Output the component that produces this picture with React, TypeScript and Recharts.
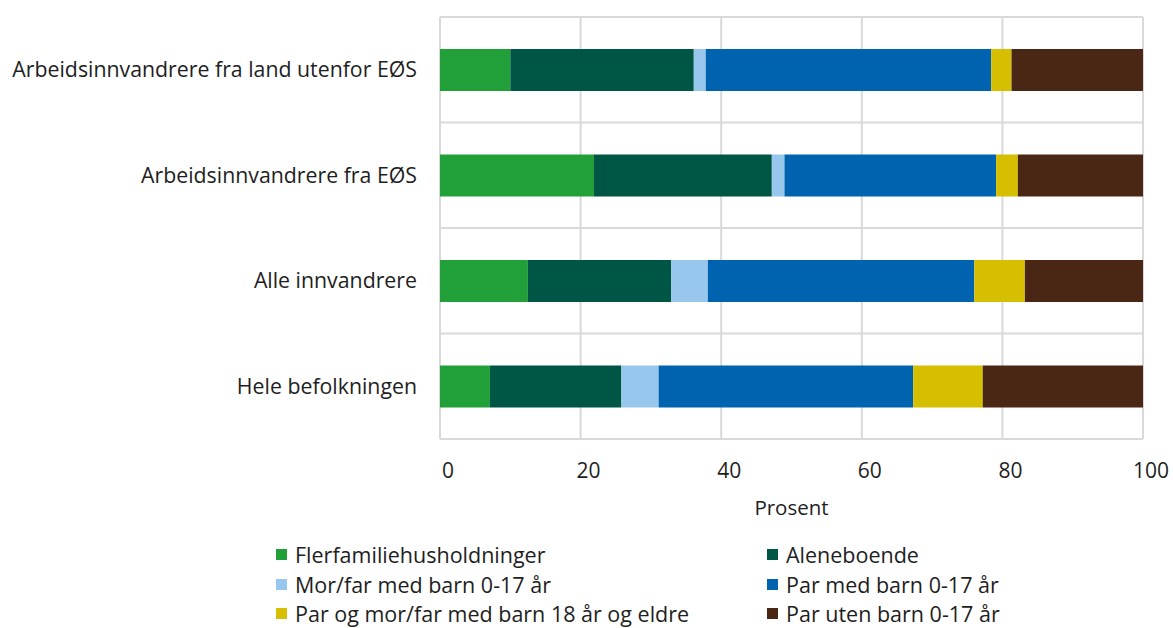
import {
  BarChart,
  Bar,
  XAxis,
  YAxis,
  CartesianGrid,
  Legend,
} from "recharts";

const categories = [
  "Arbeidsinnvandrere fra land utenfor EØS",
  "Arbeidsinnvandrere fra EØS",
  "Alle innvandrere",
  "Hele befolkningen",
];

const flerfamilie = [10.0, 21.9, 12.5, 7.1];
const aleneboende = [26.1, 25.3, 20.4, 18.7];
const morFarUng = [1.7, 1.8, 5.2, 5.3];
const parMedBarn = [40.6, 30.1, 37.9, 36.2];
const parEldreBarn = [2.9, 3.1, 7.2, 9.9];
const parUtenBarn = [18.7, 17.8, 16.8, 22.8];

const xTicks = [0, 20, 40, 60, 80, 100];

const series = [
  { key: "flerfamilie", name: "Flerfamiliehusholdninger", color: "#21a03a", values: flerfamilie },
  { key: "aleneboende", name: "Aleneboende", color: "#005645", values: aleneboende },
  { key: "morFarUng", name: "Mor/far med barn 0-17 år", color: "#97c7ec", values: morFarUng },
  { key: "parMedBarn", name: "Par med barn 0-17 år", color: "#0063af", values: parMedBarn },
  { key: "parEldreBarn", name: "Par og mor/far med barn 18 år og eldre", color: "#d6bf00", values: parEldreBarn },
  { key: "parUtenBarn", name: "Par uten barn 0-17 år", color: "#4a2714", values: parUtenBarn },
];

const data = categories.map((name, i) => {
  const row: Record<string, string | number> = { name };
  series.forEach((s) => {
    row[s.key] = s.values[i];
  });
  return row;
});

const textColor = "#1e1e1e";

const LegendContent = () => (
  <div
    style={{
      display: "grid",
      gridTemplateColumns: "491px 400px",
      paddingLeft: 276,
      height: 88,
      fontSize: 21.5,
      color: textColor,
    }}
  >
    {series.map((s) => (
      <div key={s.key} style={{ display: "flex", alignItems: "center", height: 29.5, whiteSpace: "nowrap" }}>
        <span style={{ width: 11, height: 11, background: s.color, marginRight: 8, display: "inline-block" }} />
        {s.name}
      </div>
    ))}
  </div>
);

export default function App() {
  return (
    <div
      style={{
        position: "absolute",
        left: 0,
        top: 0,
        width: 1173,
        height: 628,
        background: "#fff",
        fontFamily: "'Open Sans', sans-serif",
      }}
    >
      <BarChart
        width={1173}
        height={628}
        data={data}
        layout="vertical"
        margin={{ top: 17, right: 30, left: 0, bottom: 0 }}
        barSize={42}
      >
        <CartesianGrid
          stroke="#d9d9d9"
          strokeWidth={2}
          horizontalCoordinatesGenerator={({ offset }: any) =>
            [...categories, ""].map((_, i) => offset.top + (i * offset.height) / categories.length)
          }
        />
        <XAxis
          type="number"
          domain={[0, 100]}
          ticks={xTicks}
          axisLine={false}
          tickLine={false}
          tickSize={0}
          tickMargin={24}
          height={101}
          tick={{ fill: textColor, fontSize: 21, dx: 8 }}
          label={{ value: "Prosent", position: "insideBottom", offset: 25, fill: textColor, fontSize: 20.5 }}
        />
        <YAxis
          type="category"
          dataKey="name"
          width={440}
          axisLine={false}
          tickLine={false}
          tickSize={0}
          tickMargin={23}
          tick={{ fill: textColor, fontSize: 21.3 }}
        />
        {series.map((s) => (
          <Bar
            key={s.key}
            dataKey={s.key}
            name={s.name}
            stackId="a"
            fill={s.color}
            isAnimationActive={false}
          />
        ))}
        <Legend
          verticalAlign="bottom"
          content={<LegendContent />}
          wrapperStyle={{ left: 0, bottom: 0, width: 1173 }}
        />
      </BarChart>
    </div>
  );
}
